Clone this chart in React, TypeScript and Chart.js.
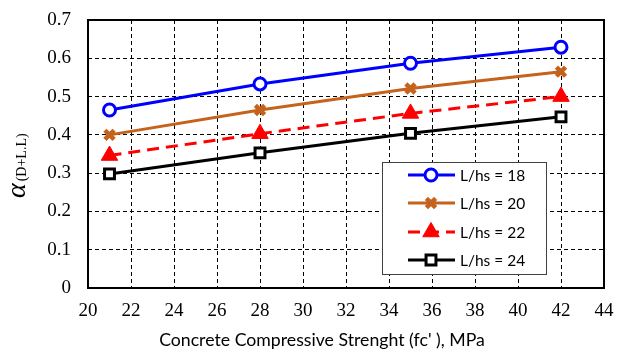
import React, { useEffect, useRef } from "react";
import { Chart, registerables } from "chart.js";

Chart.register(...registerables);

// ---- data ----
const xValues = [21, 28, 35, 42];
const seriesLabels = ["L/hs = 18", "L/hs = 20", "L/hs = 22", "L/hs = 24"];
const s18 = [0.465, 0.533, 0.587, 0.629];
const s20 = [0.4, 0.465, 0.521, 0.565];
const s22 = [0.346, 0.403, 0.456, 0.5];
const s24 = [0.298, 0.353, 0.404, 0.447];
const xTitle = "Concrete Compressive Strenght (fc' ), MPa";
const yTitleMain = "α";
const yTitleSub = "(D+L.L)";
const xMin = 20, xMax = 44, xStep = 2;
const yMin = 0, yMax = 0.7, yStep = 0.1;

const BLUE = "#0000FF";
const ORANGE = "#C5621C";
const RED = "#FF0000";
const BLACK = "#000000";

const toPts = (ys: number[]) => xValues.map((x, i) => ({ x, y: ys[i] }));

const seriesDefs = [
  { label: seriesLabels[0], data: s18, color: BLUE, style: "circle", fill: "#FFFFFF", radius: 6, bw: 3, dash: [] as number[] },
  { label: seriesLabels[1], data: s20, color: ORANGE, style: "crossRot", fill: ORANGE, radius: 6.5, bw: 4.5, dash: [] as number[] },
  { label: seriesLabels[2], data: s22, color: RED, style: "triangle", fill: RED, radius: 9.5, bw: 1, dash: [12, 7] },
  { label: seriesLabels[3], data: s24, color: BLACK, style: "rect", fill: "#FFFFFF", radius: 7, bw: 3, dash: [] as number[] },
];

function drawMarker(ctx: CanvasRenderingContext2D, style: string, x: number, y: number, r: number, color: string, fill: string, bw: number) {
  ctx.save();
  ctx.setLineDash([]);
  ctx.strokeStyle = color;
  ctx.fillStyle = fill;
  ctx.lineWidth = bw;
  ctx.beginPath();
  if (style === "circle") {
    ctx.arc(x, y, r, 0, Math.PI * 2);
    ctx.fill();
    ctx.stroke();
  } else if (style === "rect") {
    const s = r * Math.SQRT1_2;
    ctx.rect(x - s, y - s, 2 * s, 2 * s);
    ctx.fill();
    ctx.stroke();
  } else if (style === "triangle") {
    const a = (Math.PI * 2) / 3;
    for (let i = 0; i < 3; i++) {
      const ang = -Math.PI / 2 + i * a;
      const px = x + Math.cos(ang) * r;
      const py = y + Math.sin(ang) * r;
      if (i === 0) ctx.moveTo(px, py);
      else ctx.lineTo(px, py);
    }
    ctx.closePath();
    ctx.fill();
    ctx.stroke();
  } else if (style === "crossRot") {
    const o = r * Math.SQRT1_2;
    ctx.moveTo(x - o, y - o);
    ctx.lineTo(x + o, y + o);
    ctx.moveTo(x - o, y + o);
    ctx.lineTo(x + o, y - o);
    ctx.stroke();
  }
  ctx.restore();
}

const decorPlugin = {
  id: "decor",
  afterDraw(chart: any) {
    const { ctx, chartArea } = chart;
    const { left, right, top, bottom } = chartArea;
    ctx.save();
    // plot border
    ctx.setLineDash([]);
    ctx.strokeStyle = "#000";
    ctx.lineWidth = 2;
    ctx.strokeRect(left, top, right - left, bottom - top);

    // x title
    ctx.fillStyle = "#000";
    ctx.font = "17.7px Lato";
    ctx.textAlign = "center";
    ctx.textBaseline = "middle";
    ctx.fillText(xTitle, 322, 340);

    // y title (rotated)
    ctx.save();
    ctx.translate(25, 198);
    ctx.rotate(-Math.PI / 2);
    ctx.textAlign = "left";
    ctx.textBaseline = "alphabetic";
    ctx.font = "italic 28px 'Liberation Serif'";
    ctx.fillText(yTitleMain, 0, 0);
    const w = ctx.measureText(yTitleMain).width;
    ctx.font = "14px 'Liberation Serif'";
    ctx.fillText(yTitleSub, w + 2, 1);
    ctx.restore();

    // legend
    const bx = 382, by = 162, bw = 164, bh = 112;
    ctx.fillStyle = "#FFFFFF";
    ctx.fillRect(bx, by, bw, bh);
    ctx.strokeStyle = "#404040";
    ctx.lineWidth = 1;
    ctx.strokeRect(bx + 0.5, by + 0.5, bw, bh);
    const rowY = [175, 203, 232, 260];
    chart.data.datasets.forEach((ds: any, i: number) => {
      const def = seriesDefs[i];
      const y = rowY[i];
      ctx.save();
      ctx.strokeStyle = def.color;
      ctx.lineWidth = 3;
      ctx.setLineDash(def.dash);
      ctx.beginPath();
      ctx.moveTo(408, y);
      ctx.lineTo(455, y);
      ctx.stroke();
      ctx.restore();
      drawMarker(ctx, def.style, 431, y, def.radius, def.color, def.fill, def.bw);
      ctx.fillStyle = "#000";
      ctx.font = "15.5px Lato";
      ctx.textAlign = "left";
      ctx.textBaseline = "middle";
      ctx.fillText(ds.label, 460, y + 1);
    });
    ctx.restore();
  },
};

export default function App() {
  const ref = useRef<HTMLCanvasElement | null>(null);
  useEffect(() => {
    document.body.style.margin = "0";
    const canvas = ref.current;
    if (!canvas) return;
    const chart = new Chart(canvas, {
      type: "line",
      data: {
        datasets: seriesDefs.map((d) => ({
          label: d.label,
          data: toPts(d.data),
          borderColor: d.color,
          backgroundColor: d.fill,
          borderWidth: 3,
          borderDash: d.dash,
          pointStyle: d.style as any,
          pointRadius: d.radius,
          pointBorderWidth: d.bw,
          pointBorderColor: d.color,
          pointBackgroundColor: d.fill,
          tension: 0,
          fill: false,
        })),
      },
      options: {
        animation: false,
        responsive: false,
        maintainAspectRatio: false,
        layout: { padding: { left: 0, right: 13, top: 20, bottom: 0 } },
        plugins: { legend: { display: false }, tooltip: { enabled: false } },
        scales: {
          x: {
            type: "linear",
            min: xMin,
            max: xMax,
            ticks: { stepSize: xStep, color: "#000", font: { family: "'Liberation Serif'", size: 19 }, padding: 12, maxRotation: 0 },
            grid: { color: "#000", lineWidth: 1, drawTicks: false },
            border: { display: false, dash: [4, 3] },
            afterFit: (s: any) => { s.height = 64; s.paddingLeft = 0; s.paddingRight = 0; },
          },
          y: {
            type: "linear",
            min: yMin,
            max: yMax,
            ticks: { stepSize: yStep, color: "#000", font: { family: "'Liberation Serif'", size: 19 }, padding: 17 },
            grid: { color: "#000", lineWidth: 1, drawTicks: false },
            border: { display: false, dash: [4, 3] },
            afterFit: (s: any) => { s.width = 88; s.paddingTop = 0; s.paddingBottom = 0; },
          },
        },
      },
      plugins: [decorPlugin],
    });
    return () => chart.destroy();
  }, []);
  return (
    <div style={{ position: "absolute", left: 0, top: 0, width: 617, height: 352, background: "#fff" }}>
      <canvas ref={ref} width={617} height={352} style={{ width: 617, height: 352 }} />
    </div>
  );
}
